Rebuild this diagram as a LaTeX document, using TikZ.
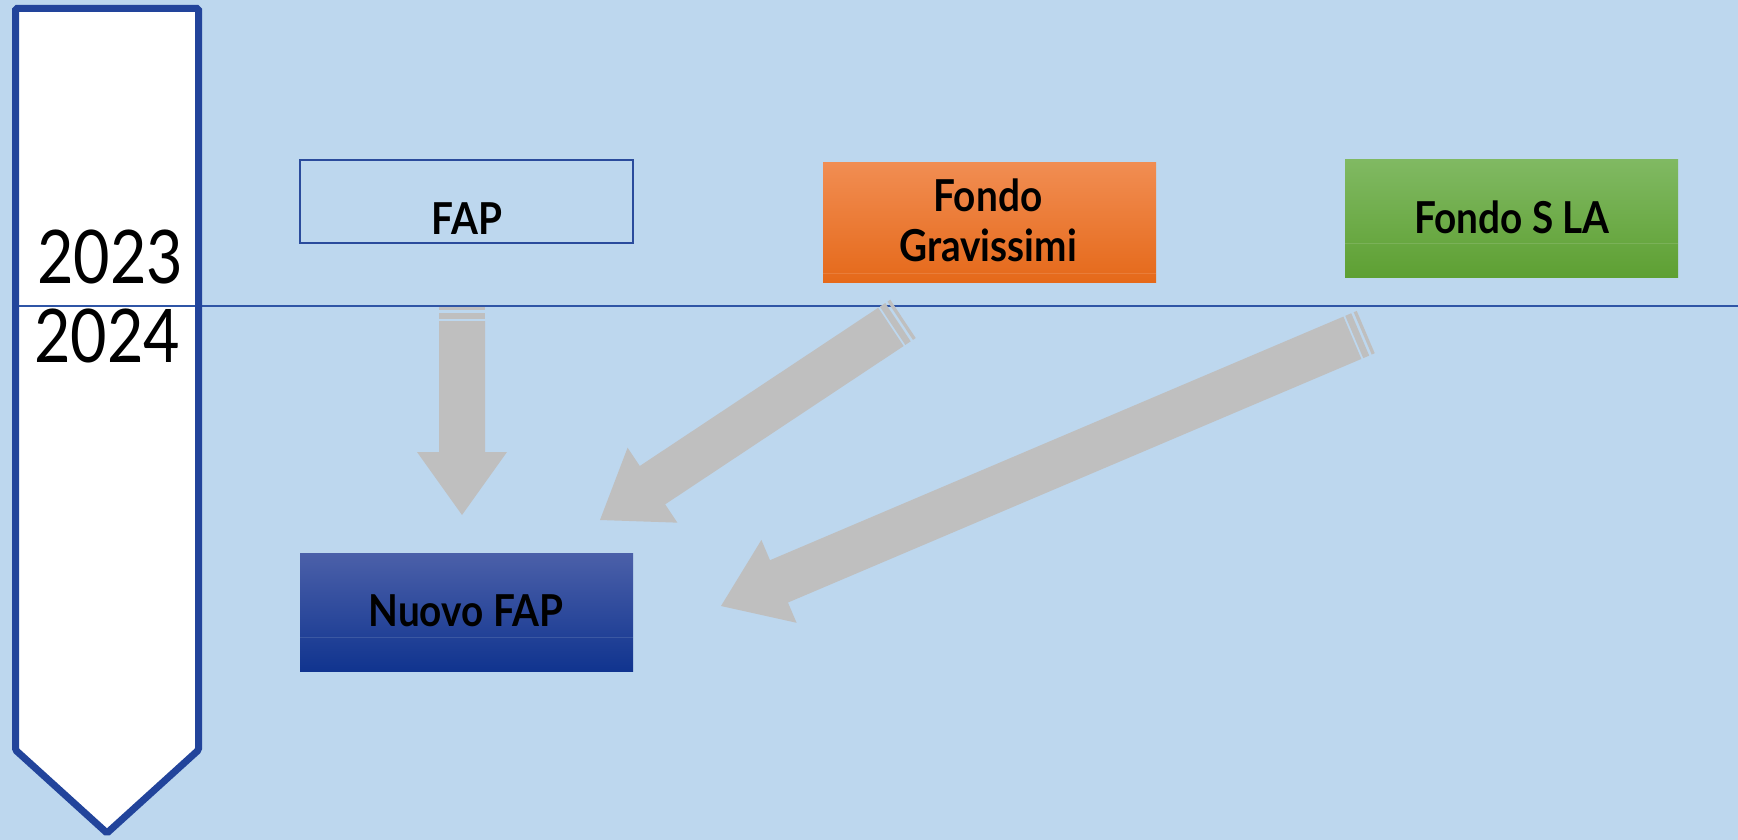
\documentclass[tikz,border=0pt]{standalone}
\usepackage{fontspec}
\setmainfont{Lato}
\newfontfamily\boxfont{Lato}[FakeStretch=0.88]
\newfontfamily\yearfont{Lato}[FakeStretch=0.85]
\usetikzlibrary{calc}
\definecolor{bg}{HTML}{BDD7EE}
\definecolor{tlblue}{HTML}{22449B}
\definecolor{linblue}{HTML}{2F55A6}
\definecolor{agray}{HTML}{BFBFBF}
\definecolor{fapblue}{HTML}{2A4B9C}
\definecolor{orT}{HTML}{F18D52}
\definecolor{orM}{HTML}{F47B2C}
\definecolor{orB}{HTML}{E5691A}
\definecolor{grT}{HTML}{80B962}
\definecolor{grM}{HTML}{6FB043}
\definecolor{grB}{HTML}{5EA033}
\definecolor{blT}{HTML}{4B60A9}
\definecolor{blM}{HTML}{1D40A0}
\definecolor{blB}{HTML}{10348F}
\newcommand\stripedarrow[2]{%
  \coordinate (q1) at ($(#1)!0.5pt!(#2)$);
  \coordinate (q2) at ($(#1)!3.8pt!(#2)$);
  \coordinate (q3) at ($(#1)!6.5pt!(#2)$);
  \coordinate (q4) at ($(#1)!13pt!(#2)$);
  \coordinate (q5) at ($(#1)!15pt!(#2)$);
  \coordinate (qh) at ($(#2)!63pt!(#1)$);
  \fill[agray] ($(q1)!23pt!90:(#2)$) -- ($(q2)!23pt!90:(#2)$) -- ($(q2)!23pt!-90:(#2)$) -- ($(q1)!23pt!-90:(#2)$) -- cycle;
  \fill[agray] ($(q3)!23pt!90:(#2)$) -- ($(q4)!23pt!90:(#2)$) -- ($(q4)!23pt!-90:(#2)$) -- ($(q3)!23pt!-90:(#2)$) -- cycle;
  \fill[agray] ($(q5)!23pt!90:(#2)$) -- ($(qh)!23pt!90:(#2)$) -- ($(qh)!45pt!90:(#2)$) -- (#2) -- ($(qh)!45pt!-90:(#2)$) -- ($(qh)!23pt!-90:(#2)$) -- ($(q5)!23pt!-90:(#2)$) -- cycle;
}
\begin{document}
\begin{tikzpicture}[x=1pt,y=-1pt,
  box/.style={inner sep=0pt, outer sep=0pt, minimum width=333pt},
  lab/.style={inner sep=0pt, font=\boxfont\bfseries\fontsize{44}{50}\selectfont, text=black},
  yearlab/.style={inner sep=0pt, font=\yearfont\fontsize{74}{80}\selectfont, text=black},
  gloss/.style={white, opacity=0.12, line width=1pt}]
\fill[bg] (0,0) rectangle (1738,840);
\useasboundingbox (0,0) rectangle (1738,840);
% timeline pennant
\fill[white] (15.5,8.5) -- (198.5,8.5) -- (198.5,750) -- (107,833) -- (15.5,750) -- cycle;
\coordinate (lineL) at (16,306);
\coordinate (lineR) at (1738,306);
\draw[linblue, line width=2pt] (lineL) -- (lineR);
\draw[tlblue, line width=7pt, rounded corners=1.5pt] (15.5,8.5) -- (198.5,8.5) -- (198.5,750) -- (107,833) -- (15.5,750) -- cycle;
\node[yearlab, anchor=base] (y23) at (110,283) {2023};
\node[yearlab, anchor=base] (y24) at (107,362) {2024};
% boxes
\node[box, draw=fapblue, line width=1.5pt, minimum height=83pt] (fap) at (466.5,201.5) {};
\node[box, minimum height=119pt, top color=orT, middle color=orM, bottom color=orB] (grav) at (989.5,222.5) {};
\draw[gloss] (823,273) -- (1156,273);
\node[box, minimum height=117pt, top color=grT, middle color=grM, bottom color=grB] (sla) at (1511.5,218.5) {};
\draw[gloss] (1345,243) -- (1678,243);
\node[box, minimum height=118pt, top color=blT, middle color=blM, bottom color=blB] (nuovo) at (466.5,612) {};
\draw[gloss] (300,637) -- (633,637);
% labels
\node[lab, anchor=base] (tfap) at (467,234) {FAP};
\node[lab, anchor=base, align=center] (tgrav) at (988,261) {Fondo\\Gravissimi};
\node[lab, anchor=base] (tsla) at (1512,233) {Fondo S LA};
\node[lab, anchor=base] (tnuovo) at (466,626) {Nuovo FAP};
% arrows
\coordinate (a1s) at (462,306);
\coordinate (a1e) at (462,515);
\coordinate (a2s) at (903.4,318.6);
\coordinate (a2e) at (600,520);
\coordinate (a3s) at (1366.2,331.9);
\coordinate (a3e) at (721,606);
\stripedarrow{a1s}{a1e}
\stripedarrow{a2s}{a2e}
\stripedarrow{a3s}{a3e}
\end{tikzpicture}
\end{document}
